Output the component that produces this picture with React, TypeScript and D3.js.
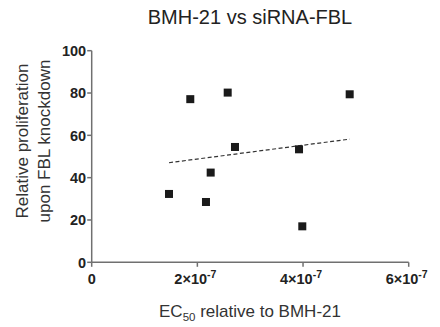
import React from "react";
import * as d3 from "d3";

const title = "BMH-21 vs siRNA-FBL";
const xValues = [1.463e-7, 1.866e-7, 2.163e-7, 2.252e-7, 2.574e-7, 2.712e-7, 3.924e-7, 3.986e-7, 4.883e-7];
const yValues = [32.3, 77.1, 28.5, 42.4, 80.2, 54.5, 53.4, 17.0, 79.4];
const xTicks = [0, 2e-7, 4e-7, 6e-7];
const xTickMantissa = ["0", "2×10", "4×10", "6×10"];
const xTickExp = ["", "-7", "-7", "-7"];
const yTicks = [0, 20, 40, 60, 80, 100];

const W = 440, H = 327;
const left = 91.7, right = 408.7, top = 50.7, bottom = 262.3;
const FONT = "'Liberation Sans', Arial, Helvetica, sans-serif";
const AXIS = "#707070";
const TEXT = "#222";

export default function App() {
  const x = d3.scaleLinear().domain([0, 6e-7]).range([left, right]);
  const y = d3.scaleLinear().domain([0, 100]).range([bottom, top]);

  const pts = xValues.map((v, i) => ({ x: v, y: yValues[i] }));
  const mx = d3.mean(xValues)!;
  const my = d3.mean(yValues)!;
  const sxy = d3.sum(pts, p => (p.x - mx) * (p.y - my));
  const sxx = d3.sum(pts, p => (p.x - mx) ** 2);
  const slope = sxy / sxx;
  const icpt = my - slope * mx;
  const [xmin, xmax] = d3.extent(xValues) as [number, number];
  const line = d3.line<[number, number]>().x(d => x(d[0])).y(d => y(d[1]));
  const regPath = line([[xmin, icpt + slope * xmin], [xmax, icpt + slope * xmax]]);

  const sq = 8;
  return (
    <svg width={W} height={H} style={{ position: "absolute", left: 0, top: 0, background: "#fff" }} fontFamily={FONT}>
      <text x={250} y={24} textAnchor="middle" fontSize={20} fill={TEXT}>{title}</text>

      {/* axes */}
      <line x1={left} x2={left} y1={top} y2={bottom} stroke={AXIS} strokeWidth={1.5} />
      <line x1={left} x2={right} y1={bottom} y2={bottom} stroke={AXIS} strokeWidth={1.5} />
      {yTicks.map(t => (
        <g key={"y" + t}>
          <line x1={left - 4.5} x2={left} y1={y(t)} y2={y(t)} stroke={AXIS} strokeWidth={1.5} />
          <text x={left - 5.5} y={y(t) + 5.2} textAnchor="end" fontSize={14.5} fontWeight="bold" fill={TEXT}>{t}</text>
        </g>
      ))}
      {xTicks.map((t, i) => (
        <g key={"x" + t}>
          <line x1={x(t)} x2={x(t)} y1={bottom} y2={bottom + 4.5} stroke={AXIS} strokeWidth={1.5} />
          <text x={x(t) - (xTickExp[i] ? 2 : 0)} y={283.5} textAnchor="middle" fontSize={14.5} fontWeight="bold" fill={TEXT}>
            {xTickMantissa[i]}
            {xTickExp[i] ? <tspan fontSize={10.5} dy={-6}>{xTickExp[i]}</tspan> : null}
          </text>
        </g>
      ))}

      {/* regression */}
      <path d={regPath || ""} fill="none" stroke="#333" strokeWidth={1.2} strokeDasharray="4,2.5" />

      {/* points */}
      {pts.map((p, i) => (
        <rect key={i} x={x(p.x) - sq / 2} y={y(p.y) - sq / 2} width={sq} height={sq} fill="#1a1a1a" />
      ))}

      {/* axis titles */}
      <g transform={`translate(0,141) rotate(-90)`}>
        <text x={0} y={27.5} textAnchor="middle" fontSize={17} fill="#333">Relative proliferation</text>
        <text x={0} y={50} textAnchor="middle" fontSize={17} fill="#333">upon FBL knockdown</text>
      </g>
      <text x={250} y={317} textAnchor="middle" fontSize={17} fill="#333">
        EC<tspan fontSize={11.5} dy={4}>50</tspan><tspan dy={-4}> relative to BMH-21</tspan>
      </text>
    </svg>
  );
}
